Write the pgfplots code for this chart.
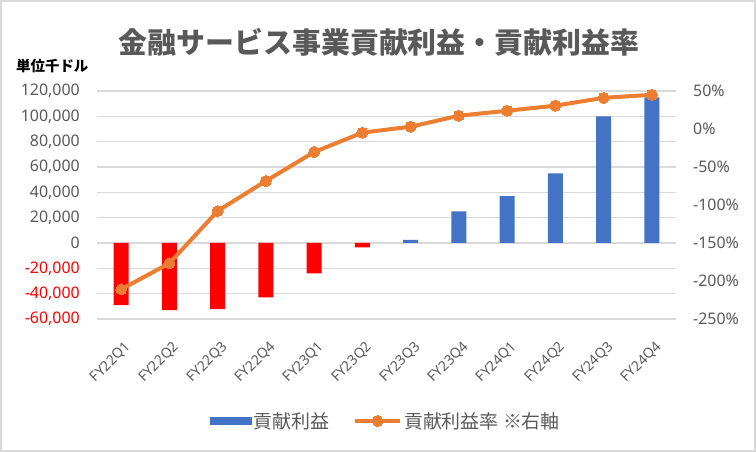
\documentclass[border=0pt]{standalone}
\usepackage{fontspec}
\setmainfont{Noto Sans}
\newfontfamily\jp{Noto Sans CJK JP}
\usepackage{pgfplots}
\pgfplotsset{compat=1.18}
\definecolor{barblue}{HTML}{4472C4}
\definecolor{lineorange}{HTML}{ED7D31}
\definecolor{txtgray}{HTML}{595959}
\definecolor{gridgray}{HTML}{D9D9D9}
\definecolor{barred}{HTML}{FF0000}
\pgfplotsset{
  mylinelegend/.style={legend image code/.code={\draw[##1, mark repeat=2, mark phase=2] plot coordinates {(0bp,0bp) (22.5bp,0bp) (45bp,0bp)};}},
  mybarlegend/.style={legend image code/.code={\fill[barblue] (0bp,-3.5bp) rectangle (41bp,3.5bp);}},
}
\begin{document}
\begin{tikzpicture}
\path[use as bounding box] (0bp,0bp) rectangle (756bp,452bp);
\draw[gridgray, line width=2bp] (1bp,1bp) rectangle (755bp,451bp);
\node[font=\jp\bfseries\fontsize{29}{29}\selectfont, text=txtgray] at (379bp,410bp) {金融サービス事業貢献利益・貢献利益率};
\node[font=\jp\bfseries\fontsize{14.5}{14.5}\selectfont, anchor=west, inner sep=0pt] at (16bp,386bp) {単位千ドル};
\begin{axis}[
  at={(97bp,133bp)}, anchor=south west,
  scale only axis, width=579bp, height=228bp,
  xmin=-0.5, xmax=11.5, ymin=-60000, ymax=120000,
  axis line style={draw=none}, major tick length=0pt,
  scaled y ticks=false,
  ytick={-60000,-40000,...,120000},
  yticklabels={{\textcolor{barred}{-60,000}},{\textcolor{barred}{-40,000}},{\textcolor{barred}{-20,000}},{0},{20,000},{40,000},{60,000},{80,000},{100,000},{120,000}},
  ymajorgrids, grid style={gridgray, line width=1.3bp},
  xtick={0,...,11},
  xticklabels={FY22Q1,FY22Q2,FY22Q3,FY22Q4,FY23Q1,FY23Q2,FY23Q3,FY23Q4,FY24Q1,FY24Q2,FY24Q3,FY24Q4},
  x tick label style={xshift=3bp, yshift=-21bp, rotate=45, anchor=north east, font=\fontsize{14}{14}\selectfont, text=txtgray, inner sep=0pt},
  y tick label style={font=\fontsize{16}{16}\selectfont, text=txtgray, inner sep=0pt},
  yticklabel shift=17bp,
  /pgf/number format/assume math mode=true,
  clip=false,
]
\addplot[ybar, bar width=15bp, bar shift=0pt, fill=barred, draw=none] coordinates {(0,-49000) (1,-53000) (2,-52300) (3,-43000) (4,-24000) (5,-3500)};
\addplot[ybar, bar width=15bp, bar shift=0pt, fill=barblue, draw=none] coordinates {(6,2500) (7,25000) (8,37000) (9,55000) (10,100000) (11,115000)};
\end{axis}
\begin{axis}[
  at={(97bp,133bp)}, anchor=south west,
  scale only axis, width=579bp, height=228bp,
  xmin=-0.5, xmax=11.5, ymin=-250, ymax=50,
  axis y line*=right, axis x line=none,
  axis line style={draw=none}, major tick length=0pt,
  ytick={-250,-200,...,50},
  yticklabels={{-250\%},{-200\%},{-150\%},{-100\%},{-50\%},{0\%},{50\%}},
  y tick label style={font=\fontsize{16}{16}\selectfont, text=txtgray, inner sep=0pt},
  yticklabel shift=17bp,
  clip=false,
  legend columns=2,
  legend style={draw=none, fill=none, at={(0.499,-0.447)}, anchor=center,
    font=\jp\fontsize{19}{19}\selectfont, text=txtgray,
    /tikz/every even column/.append style={column sep=22bp}},
]
\addlegendimage{mybarlegend}
\addlegendentry{貢献利益}
\addplot[lineorange, line width=4bp, mark=*, mark size=5.5bp, mark options={fill=lineorange, draw=lineorange, line width=0pt}, mylinelegend]
  coordinates {(0,-211) (1,-176.7) (2,-107.9) (3,-68.4) (4,-30.3) (5,-4.8) (6,3) (7,17.5) (8,24) (9,30.7) (10,41) (11,45)};
\addlegendentry{貢献利益率 ※右軸}
\end{axis}
\end{tikzpicture}
\end{document}
